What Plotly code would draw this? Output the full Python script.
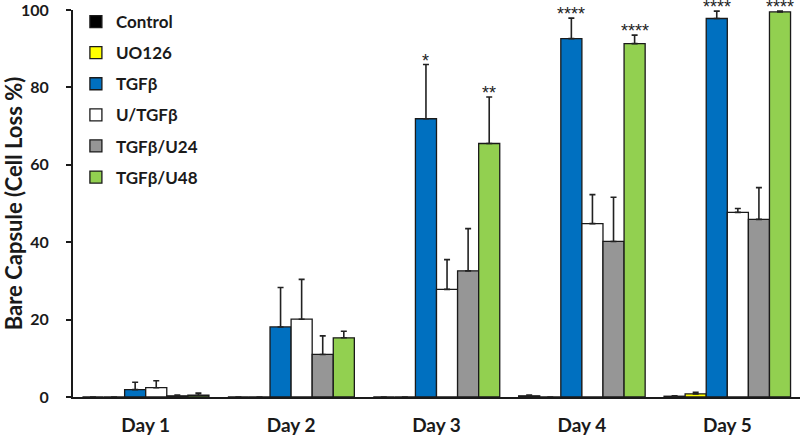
import plotly.graph_objects as go

days = ["Day 1", "Day 2", "Day 3", "Day 4", "Day 5"]
series_names = ["Control", "UO126", "TGFβ", "U/TGFβ", "TGFβ/U24", "TGFβ/U48"]
control = [0.0, 0.0, 0.0, 0.3, 0.2]
control_err = [0.0, 0.0, 0.0, 0.2, 0.1]
uo126 = [0.0, 0.0, 0.0, 0.0, 0.8]
uo126_err = [0.0, 0.0, 0.0, 0.0, 0.4]
tgfb = [1.9, 18.1, 71.9, 92.6, 97.8]
tgfb_err = [1.9, 10.2, 14.0, 5.3, 1.9]
u_tgfb = [2.4, 20.1, 27.8, 44.8, 47.7]
u_tgfb_err = [1.8, 10.3, 7.7, 7.5, 1.0]
tgfb_u24 = [0.3, 11.0, 32.6, 40.2, 45.9]
tgfb_u24_err = [0.2, 4.8, 10.9, 11.4, 8.2]
tgfb_u48 = [0.45, 15.3, 65.5, 91.3, 99.5]
tgfb_u48_err = [0.55, 1.7, 12.0, 2.2, 0.2]
tgfb_stars = ["", "", "*", "****", "****"]
tgfb_u48_stars = ["", "", "**", "****", "****"]

values = [control, uo126, tgfb, u_tgfb, tgfb_u24, tgfb_u48]
errors = [control_err, uo126_err, tgfb_err, u_tgfb_err, tgfb_u24_err, tgfb_u48_err]
colors = ["#000000", "#FFFF00", "#0070C0", "#FFFFFF", "#969696", "#92D050"]

W, H = 800, 436
ML, MR, MT, MB = 73, 0, 10, 39
BARGAP = 0.13

fig = go.Figure()
for i, (name, vals, errs, col) in enumerate(zip(series_names, values, errors, colors)):
    fig.add_trace(go.Bar(
        x=days, y=vals, name=name, offsetgroup=str(i), legendgroup=str(i),
        marker=dict(color=col, line=dict(color="#1a1a1a", width=1.3)),
        error_y=dict(type="data", array=errs, arrayminus=[0]*len(errs), symmetric=False,
                     color="#222222", thickness=1.6, width=3),
    ))

# significance markers placed above the error bars of their series
cat_px = (W - ML - MR) / len(days)
bar_px = cat_px * (1 - BARGAP) / len(series_names)
for idx, stars in ((2, tgfb_stars), (5, tgfb_u48_stars)):
    shift = (idx - (len(series_names) - 1) / 2) * bar_px
    for d, v, e, s in zip(days, values[idx], errors[idx], stars):
        if s:
            fig.add_annotation(x=d, y=v + e, text=s, showarrow=False,
                               xanchor="center", yanchor="bottom",
                               xshift=shift, yshift=-7, borderpad=0,
                               font=dict(size=18, family="Liberation Sans", color="#222222"))

fig.update_layout(
    width=W, height=H,
    margin=dict(l=ML, r=MR, t=MT, b=MB, autoexpand=False),
    paper_bgcolor="white", plot_bgcolor="white",
    barmode="group", bargap=BARGAP, bargroupgap=0,
    font=dict(family="Lato", color="#1a1a1a"),
    showlegend=True,
    legend=dict(x=0.004, y=1.0155, xanchor="left", yanchor="top",
                font=dict(size=17, family="Lato", color="#1a1a1a", weight="bold"),
                tracegroupgap=6, bgcolor="rgba(0,0,0,0)", itemwidth=30),
)
fig.update_xaxes(
    showline=True, linecolor="#1a1a1a", linewidth=2, ticks="",
    tickfont=dict(size=19, family="Lato", weight="bold", color="#1a1a1a"),
    ticklabelstandoff=10, automargin=False,
    showgrid=False,
)
fig.update_yaxes(
    range=[0, 100], tickvals=[0, 20, 40, 60, 80, 100],
    showline=True, linecolor="#1a1a1a", linewidth=2,
    ticks="outside", ticklen=5, tickwidth=2, tickcolor="#1a1a1a",
    tickfont=dict(size=16, family="Lato", weight="bold", color="#1a1a1a"),
    ticklabelstandoff=14, automargin=False, ticklabeloverflow="allow",
    showgrid=False, zeroline=False,
    title=dict(text="Bare Capsule (Cell Loss %)", standoff=0,
               font=dict(size=22, family="Lato", weight="bold", color="#1a1a1a")),
)

fig.write_html("out.html", config={"displayModeBar": False},
               post_script="document.body.style.margin='0';")
